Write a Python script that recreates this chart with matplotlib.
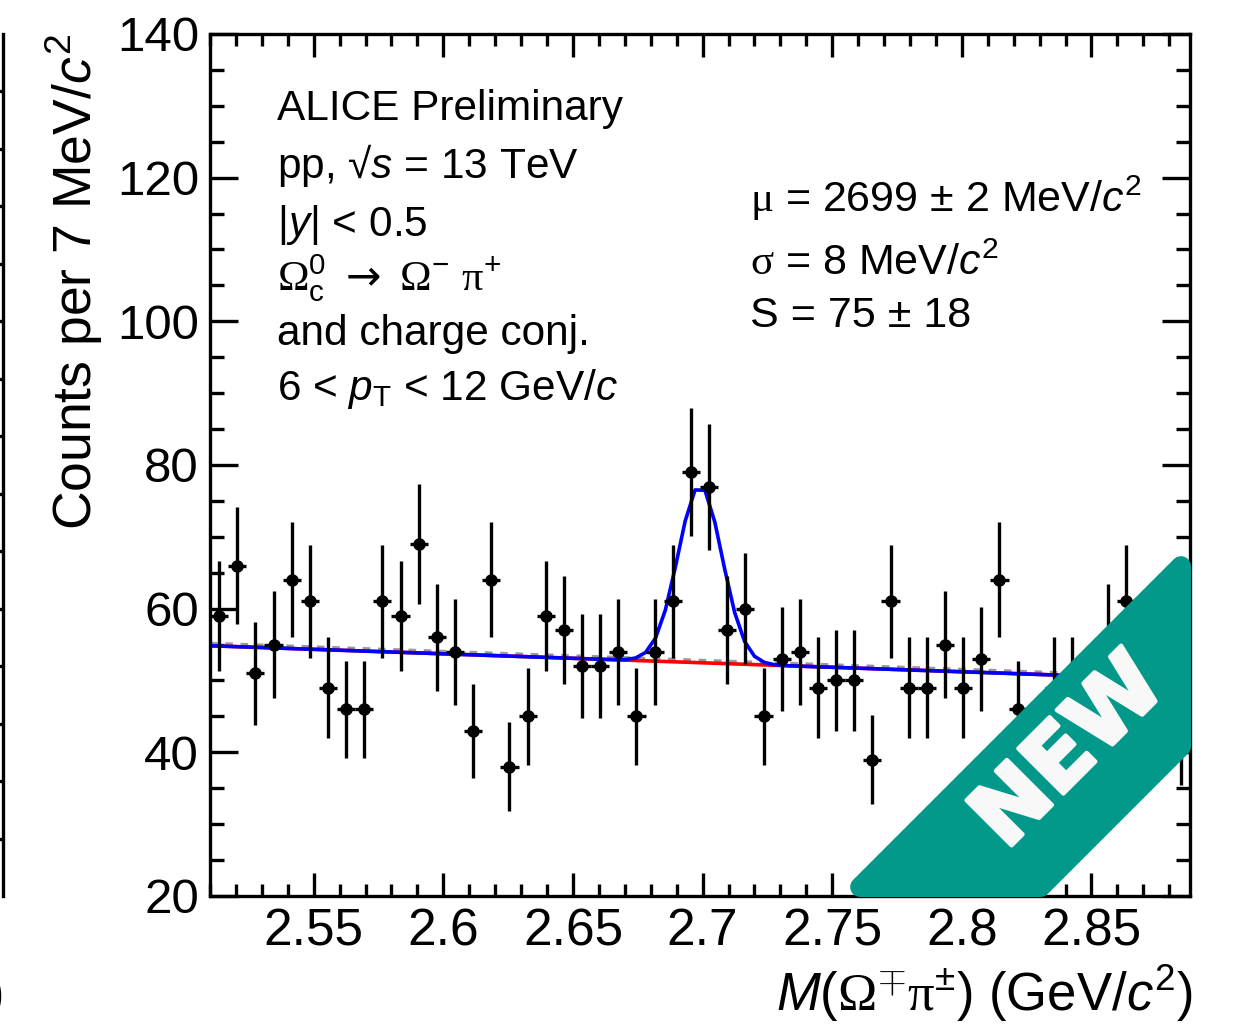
import numpy as np
import matplotlib
matplotlib.use("Agg")
import matplotlib.pyplot as plt
from matplotlib.patches import Polygon
from matplotlib.ticker import MultipleLocator
import matplotlib.patheffects as pe

plt.rcParams['font.family'] = ['Liberation Sans', 'DejaVu Sans']
plt.rcParams['mathtext.fontset'] = 'custom'
plt.rcParams['mathtext.rm'] = 'Liberation Sans'
plt.rcParams['mathtext.it'] = 'Liberation Sans:italic'
plt.rcParams['mathtext.bf'] = 'Liberation Sans:bold'
plt.rcParams['mathtext.sf'] = 'Liberation Sans'
plt.rcParams['mathtext.cal'] = 'Liberation Serif'
plt.rcParams['mathtext.tt'] = 'DejaVu Sans'

# ---------------- data ----------------
x_min, x_max = 2.510, 2.888
bin_width = 0.007
counts = [59, 66, 51, 55, 64, 61, 49, 46, 46, 61,
          59, 69, 56, 54, 43, 64, 38, 45, 59, 57,
          52, 52, 54, 45, 54, 61, 79, 77, 57, 60,
          45, 53, 54, 49, 50, 50, 39, 61, 49, 49,
          55, 49, 53, 64, 46, 40, 49, 49, 46, 56,
          61, 50, 48, 42]
bin_centers = x_min + bin_width * (np.arange(len(counts)) + 0.5)
errors = np.sqrt(np.array(counts, dtype=float))

# fit parameters
mu_fit = 2.699
sigma_fit = 0.0085
signal_fit = 75.0
bg_at_xmin = 54.84
bg_slope = -12.5
bg_alt_offset = 0.35

x_ticks = [2.55, 2.6, 2.65, 2.7, 2.75, 2.8, 2.85]
x_tick_labels = ["2.55", "2.6", "2.65", "2.7", "2.75", "2.8", "2.85"]
y_ticks = [20, 40, 60, 80, 100, 120, 140]

W, H = 1235, 1026
def fx(x): return x / W
def fy(y): return 1 - y / H

fig = plt.figure(figsize=(W / 100, H / 100), dpi=100)
fig.patch.set_facecolor('white')
ax = fig.add_axes([fx(210), fy(896), 980 / W, 862 / H])

# fit curves
xc = np.linspace(x_min, x_max, 100)
bg = bg_at_xmin + bg_slope * (xc - x_min)
gauss = signal_fit * bin_width / (np.sqrt(2 * np.pi) * sigma_fit) * np.exp(-0.5 * ((xc - mu_fit) / sigma_fit) ** 2)
ax.plot(xc, bg + bg_alt_offset, color='#9a9a9a', lw=2.2, ls=(0, (2.5, 2.5)), zorder=2)
ax.plot(xc, bg, color='#ff0000', lw=2.6, zorder=2.1)
ax.plot(xc, bg + gauss, color='#0000ff', lw=2.6, zorder=2.2)

ax.errorbar(bin_centers, counts, yerr=errors, xerr=bin_width / 2, fmt='o', color='black',
            ms=8, elinewidth=2.4, capsize=0, zorder=3)

ax.set_xlim(x_min, x_max)
ax.set_ylim(20, 140)
ax.set_xticks(x_ticks)
ax.set_xticklabels(x_tick_labels)
ax.set_yticks(y_ticks)
ax.xaxis.set_minor_locator(MultipleLocator(0.01))
ax.yaxis.set_minor_locator(MultipleLocator(5))
ax.tick_params(which='both', direction='in', top=True, right=True, width=2.4)
ax.tick_params(axis='x', which='major', length=16.5, pad=8, labelsize=37)
ax.tick_params(axis='x', which='minor', length=8.6)
ax.tick_params(axis='y', which='major', length=20, pad=8, labelsize=35.5)
ax.tick_params(axis='y', which='minor', length=10)
for s in ax.spines.values():
    s.set_linewidth(2.4)

ax.set_ylabel(r"Counts per 7 MeV/$c^{2}$", fontsize=38.5, loc='top')
ax.yaxis.set_label_coords(-0.107, 1.0)
ax.set_xlabel(r"$M$($\mathcal{\Omega}^{\mp}\mathcal{\pi}^{\pm}$) (GeV/$c^{2}$)", fontsize=38, loc='right')
ax.xaxis.set_label_coords(1.003, -0.077)

# left text block
left_lines = [
    ("ALICE Preliminary", 120),
    (r"pp, √$s$ = 13 TeV", 178),
    (r"|$y$| < 0.5", 236),
    (r"$\mathcal{\Omega}_{\mathrm{c}}^{0}\ \mathtt{\rightarrow}\ \mathcal{\Omega}^{-}\ \mathcal{\pi}^{+}$", 290),
    ("and charge conj.", 345),
    (r"6 < $p_{\mathrm{T}}$ < 12 GeV/$c$", 400),
]
for txt, yb in left_lines:
    fig.text(fx(277), fy(yb), txt, fontsize=30.5, ha='left', va='baseline')

right_lines = [
    (r"$\mathcal{\mu}$ = 2699 ± 2 MeV/$c^{2}$", 212),
    (r"$\mathcal{\sigma}$ = 8 MeV/$c^{2}$", 275),
    ("S = 75 ± 18", 327),
]
for txt, yb in right_lines:
    fig.text(fx(750), fy(yb), txt, fontsize=31, ha='left', va='baseline')

# neighbouring panel fragment at the left edge
ax0 = fig.add_axes([-0.5, fy(896), 0.5 + 3 / W, 862 / H])
ax0.set_xlim(0, 1)
ax0.set_ylim(0, 15)
for k in ['left', 'top', 'bottom']:
    ax0.spines[k].set_visible(False)
ax0.spines['right'].set_linewidth(2.4)
ax0.set_xticks([])
ax0.yaxis.tick_right()
ax0.set_yticks(np.arange(1, 15))
ax0.tick_params(axis='y', direction='in', length=10, width=2.4, labelright=False)
ax0.set_zorder(-1)
fig.text(fx(4), fy(1010), ")", fontsize=38, ha='right', va='baseline')

# NEW ribbon
r = 10.0
c1 = 1733 + r * np.sqrt(2)
c2 = 1941.7 - r * np.sqrt(2)
xr, yb_ = 1191 - r, 897 - r
corners_px = [(c1 - yb_, yb_), (c2 - yb_, yb_), (xr, c2 - xr), (xr, c1 - xr)]
poly = Polygon([(fx(px), fy(py)) for px, py in corners_px], closed=True,
               transform=fig.transFigure, facecolor='#03998a', edgecolor='#03998a',
               linewidth=2 * r * 0.72, joinstyle='round', zorder=10)
fig.add_artist(poly)
t = fig.text(fx(1070), fy(753), "NEW", fontsize=63, fontweight='bold', color='#f8f8f8',
             family='DejaVu Sans', rotation=45, rotation_mode='anchor', ha='center', va='center', zorder=11)
t.set_path_effects([pe.withStroke(linewidth=3, foreground='#f8f8f8', joinstyle='round', capstyle='round')])

fig.savefig("out.png", dpi=100, facecolor='white')
